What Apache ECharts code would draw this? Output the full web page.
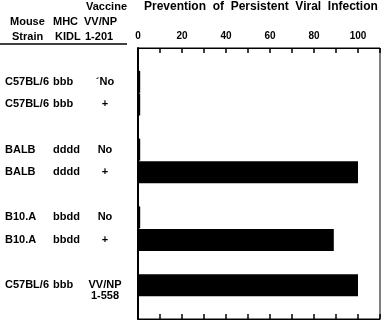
<!DOCTYPE html>
<html><head><meta charset="utf-8">
<script src="https://cdn.jsdelivr.net/npm/echarts@6/dist/echarts.min.js"></script>
<style>html,body{margin:0;padding:0;background:#fff}#c{width:388px;height:322px}</style>
</head><body><div id="c"></div>
<script>
// Rows (null = empty spacer row)
const strains  = [null, 'C57BL/6', 'C57BL/6', null, 'BALB', 'BALB', null, 'B10.A', 'B10.A', null, 'C57BL/6', null];
const mhc      = [null, 'bbb', 'bbb', null, 'dddd', 'dddd', null, 'bbdd', 'bbdd', null, 'bbb', null];
const vaccine  = [null, '\u00B4No', '+', null, 'No', '+', null, 'No', '+', null, 'VV/NP\n1-558', null];
const values   = [null, 1, 1, null, 1, 100, null, 1, 89, null, 100, null];
const xTicks   = [0, 20, 40, 60, 80, 100];

const cats = strains.map((_, i) => String(i));
const F = 'Liberation Sans, Arial, sans-serif';
const chart = echarts.init(document.getElementById('c'));
const baseY = {
  type: 'category', data: cats, inverse: true, position: 'left',
  axisTick: {show: false}, splitLine: {show: false},
};
chart.setOption({
  animation: false,
  title: {
    text: 'Prevention  of  Persistent  Viral  Infection', left: 144, top: 1, padding: 0,
    textStyle: {fontFamily: F, fontWeight: 'bold', fontSize: 12, color: '#000'}
  },
  grid: {left: 138, right: 8, top: 48, bottom: 3, show: true, borderColor: '#000', borderWidth: 1},
  xAxis: [{
    type: 'value', position: 'top', min: 0, max: 110, interval: 10,
    axisLine: {show: true, lineStyle: {color: '#000', width: 1}},
    axisTick: {show: true, inside: true, length: 5, lineStyle: {color: '#000', width: 1.5}},
    splitLine: {show: false},
    axisLabel: {margin: 7, fontFamily: F, fontWeight: 'bold', fontSize: 10, color: '#000',
      formatter: v => xTicks.indexOf(v) >= 0 ? String(v) : ''}
  }, {
    type: 'value', position: 'bottom', min: 0, max: 110, interval: 10,
    axisLine: {show: true, lineStyle: {color: '#000', width: 1}},
    axisTick: {show: true, inside: true, length: 5, lineStyle: {color: '#000', width: 1.5}},
    splitLine: {show: false}, axisLabel: {show: false}
  }],
  yAxis: [
    Object.assign({}, baseY, {
      axisLine: {show: true, lineStyle: {color: '#000', width: 2}},
      axisLabel: {margin: 133, align: 'left', fontFamily: F, fontWeight: 'bold', fontSize: 11, color: '#000',
        formatter: v => strains[+v] || ''}
    }),
    Object.assign({}, baseY, {
      axisLine: {show: false},
      axisLabel: {margin: 85, align: 'left', fontFamily: F, fontWeight: 'bold', fontSize: 11, color: '#000',
        formatter: v => mhc[+v] || ''}
    }),
    Object.assign({}, baseY, {
      axisLine: {show: false},
      axisLabel: {margin: 33, align: 'center', lineHeight: 11, fontFamily: F, fontWeight: 'bold', fontSize: 11, color: '#000',
        formatter: v => { const s = vaccine[+v] || ''; return s.indexOf('\n') >= 0 ? ' \n' + s : s; }}
    })
  ],
  series: [{
    type: 'bar', data: values, barWidth: 22, itemStyle: {color: '#000'}, silent: true
  }],
  graphic: [
    {type: 'text', right: 388 - 127, top: 1, style: {text: 'Vaccine', font: 'bold 11px ' + F, fill: '#000'}},
    {type: 'text', left: 10, top: 16, style: {text: 'Mouse', font: 'bold 11px ' + F, fill: '#000'}},
    {type: 'text', left: 53, top: 16, style: {text: 'MHC', font: 'bold 11px ' + F, fill: '#000'}},
    {type: 'text', left: 84, top: 16, style: {text: 'VV/NP', font: 'bold 11px ' + F, fill: '#000'}},
    {type: 'text', left: 12, top: 31, style: {text: 'Strain', font: 'bold 11px ' + F, fill: '#000'}},
    {type: 'text', left: 55, top: 31, style: {text: 'KIDL', font: 'bold 11px ' + F, fill: '#000'}},
    {type: 'text', left: 85, top: 31, style: {text: '1-201', font: 'bold 11px ' + F, fill: '#000'}},
    {type: 'line', shape: {x1: 0, y1: 44, x2: 127, y2: 44}, style: {stroke: '#000', lineWidth: 1.5}}
  ]
});
</script></body></html>
